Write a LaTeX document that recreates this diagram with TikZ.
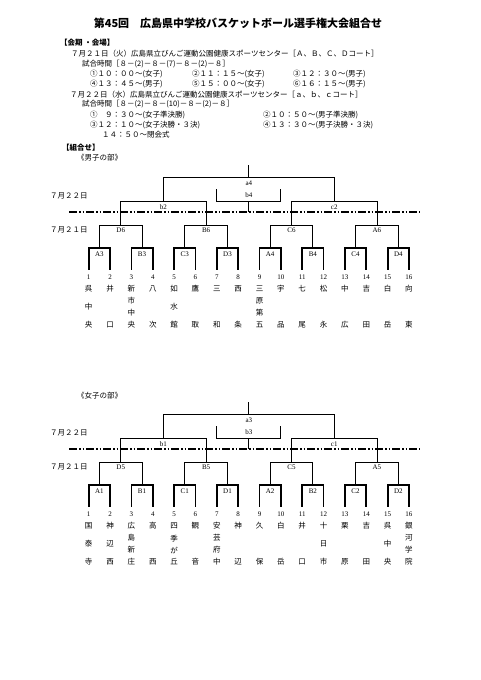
\documentclass[tikz,border=0pt]{standalone}
\usepackage{fontspec}
\setmainfont{Liberation Serif}
\newfontfamily\jp{Noto Sans CJK JP}
\tikzset{
  thinline/.style={line width=0.8pt},
  leafline/.style={line width=1.8pt},
  dayline/.style={line width=1.6pt,dash pattern=on 8pt off 2pt on 1.5pt off 2pt on 1.5pt off 2pt},
  txt/.style={inner sep=0pt,anchor=west,font=\jp\fontsize{7.5}{9}\selectfont},
  boldtxt/.style={txt,font=\jp\bfseries\fontsize{7.5}{9}\selectfont},
  tag/.style={inner sep=0pt,font=\fontsize{7}{8}\selectfont},
  team/.style={inner sep=0pt,align=center,font=\jp\fontsize{7.5}{12}\selectfont}
}
% x of a bracket position, 0 = first team
\newcommand\px[1]{88.7+21.35*(#1)}
% #1 name, #2 first round, #3 second round, #4 semifinals, #5 final, #6 third place, #7 teams
\newcommand\tourney[7]{%
  % first round
  \foreach \lab [count=\j from 0] in {#2} {
    \draw[line width=1.2pt] ({\px{2*\j}},248) -- ({\px{2*\j+1}},248);
    \draw[leafline] ({\px{2*\j}},247.4) -- ({\px{2*\j}},270);
    \draw[leafline] ({\px{2*\j+1}},247.4) -- ({\px{2*\j+1}},270);
    \node[tag] (#1-r1-\j) at ({\px{2*\j+0.5}},254) {\lab};
  }
  % second round
  \foreach \lab [count=\j from 0] in {#3} {
    \draw[thinline] ({\px{4*\j+0.5}},248) |- ({\px{4*\j+2.5}},225) -- ({\px{4*\j+2.5}},248);
    \node[tag] (#1-r2-\j) at ({\px{4*\j+1.5}},230) {\lab};
  }
  % semifinals
  \foreach \lab [count=\j from 0] in {#4} {
    \draw[thinline] ({\px{8*\j+1.5}},225) |- ({\px{8*\j+5.5}},201) -- ({\px{8*\j+5.5}},225);
    \node[tag] (#1-r3-\j) at ({\px{8*\j+3.5}},207) {\lab};
  }
  % final
  \draw[thinline] ({\px{3.5}},201) |- ({\px{11.5}},177) -- ({\px{11.5}},201);
  \draw[thinline] ({\px{7.5}},177) -- ({\px{7.5}},165);
  \node[tag] (#1-fin) at ({\px{7.5}},183) {#5};
  % third place
  \draw[thinline] ({\px{6}},189) |- ({\px{9}},201) -- ({\px{9}},189);
  \draw[thinline] ({\px{7.5}},201) -- ({\px{7.5}},212);
  \node[tag] (#1-3rd) at ({\px{7.5}},195) {#6};
  % day line
  \draw[dayline] (69,212) -- (420,212);
  \node[txt] (#1-d22) at (50,196) {７月２２日};
  \node[txt] (#1-d21) at (50,230) {７月２１日};
  % teams
  \foreach \t/\m/\b [count=\i] in {#7} {
    \node[tag] (#1-n\i) at ({\px{\i-1}},277) {\i};
    \node[team] (#1-t\i) at ({\px{\i-1}},288.5) {\t};
    \ifx\m\empty\else\node[team] (#1-m\i) at ({\px{\i-1}},307) {\m};\fi
    \node[team] (#1-b\i) at ({\px{\i-1}},324.5) {\b};
  }
}

\begin{document}
\begin{tikzpicture}[x=1pt,y=-1pt]
\useasboundingbox[fill=white] (0,0) rectangle (481,680);
% heading
\node[inner sep=0pt,font=\jp\bfseries\fontsize{11}{13}\selectfont] (title) at (238,23) {第45回　広島県中学校バスケットボール選手権大会組合せ};
\node[boldtxt] (venue) at (60,43) {【会期 ・会場】};
\node[txt] (day1) at (71,54) {７月２１日（火）広島県立びんご運動公園健康スポーツセンター［Ａ、Ｂ、Ｃ、Ｄコート］};
\node[txt] (time1) at (82,64) {試合時間［８－(2)－８－(7)－８－(2)－８］};
\node[txt] (g1) at (90,74) {①１０：００～(女子)};
\node[txt] (g2) at (192,74) {②１１：１５～(女子)};
\node[txt] (g3) at (293,74) {③１２：３０～(男子)};
\node[txt] (g4) at (90,84.5) {④１３：４５～(男子)};
\node[txt] (g5) at (192,84.5) {⑤１５：００～(女子)};
\node[txt] (g6) at (293,84.5) {⑥１６：１５～(男子)};
\node[txt] (day2) at (70,94.5) {７月２２日（水）広島県立びんご運動公園健康スポーツセンター［ａ、ｂ、ｃコート］};
\node[txt] (time2) at (82,104.5) {試合時間［８－(2)－８－(10)－８－(2)－８］};
\node[txt] (h1) at (90,115) {①　９：３０～(女子準決勝)};
\node[txt] (h2) at (263,115) {②１０：５０～(男子準決勝)};
\node[txt] (h3) at (90,125) {③１２：１０～(女子決勝・３決)};
\node[txt] (h4) at (263,125) {④１３：３０～(男子決勝・３決)};
\node[txt] (close) at (102,135) {１４：５０～閉会式};
\node[boldtxt] (pairs) at (62,148) {【組合せ】};
% boys
\node[txt] (boys) at (77,158) {《男子の部》};
\tourney{boy}{A3,B3,C3,D3,A4,B4,C4,D4}{D6,B6,C6,A6}{b2,c2}{a4}{b4}
  {呉/中/央,井//口,新/{市\\中}/央,八//次,如/水/館,鷹//取,三//和,西//条,
   三/{原\\第}/五,宇//品,七//尾,松//永,中//広,吉//田,白//岳,向//東}
% girls
\node[txt] (girls) at (77,396) {《女子の部》};
\begin{scope}[yshift=-237pt]
\tourney{girl}{A1,B1,C1,D1,A2,B2,C2,D2}{D5,B5,C5,A5}{b1,c1}{a3}{b3}
  {国/泰/寺,神/辺/西,広/{島\\新}/庄,高//西,四/{季\\が}/丘,観//音,安/{芸\\府}/中,神//辺,
   久//保,白//岳,井//口,十/日/市,栗//原,吉//田,呉/中/央,銀/{河\\学}/院}
\end{scope}
\end{tikzpicture}
\end{document}
